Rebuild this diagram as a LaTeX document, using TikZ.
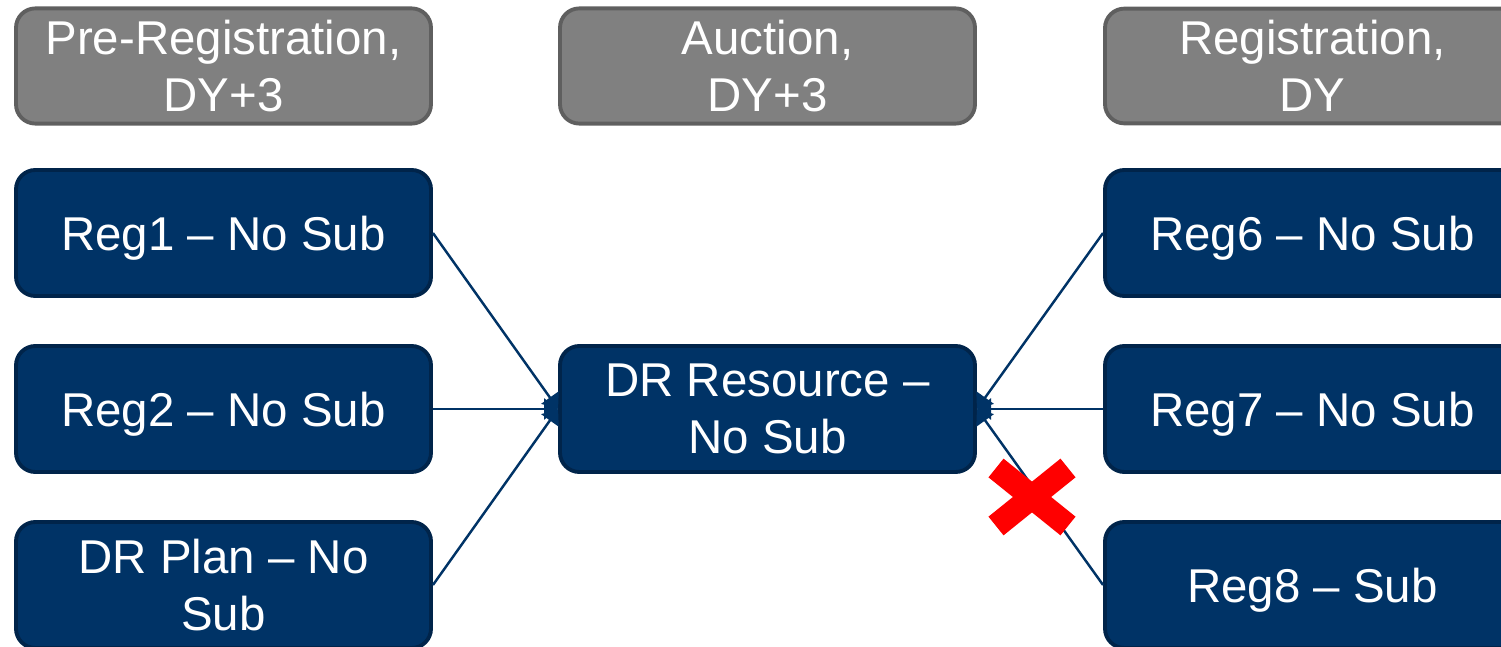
\documentclass[tikz,border=0pt]{standalone}
\usepackage{fontspec}
\setmainfont{Liberation Sans}
\usepackage{xcolor}
\usepackage{tikz}
\usetikzlibrary{arrows.meta,calc}

\definecolor{navy}{RGB}{0,51,102}
\definecolor{navyedge}{RGB}{0,36,74}
\definecolor{headfill}{RGB}{128,128,128}
\definecolor{headedge}{RGB}{95,95,95}

\begin{document}
\begin{tikzpicture}[
        head/.style={draw=headedge, fill=headfill, line width=1.1pt, rounded corners=5.5pt,
            minimum width=4.15cm, minimum height=1.10cm, text=white, align=center,
            font=\fontsize{13.5}{16.2}\selectfont},
        blk/.style={head, draw=navyedge, fill=navy, minimum height=1.26cm, text depth=0pt},
        link/.style={navy, line width=0.7pt, -{Triangle[length=4pt,width=6pt]}},
        xmark/.style={red, line width=0.24cm}
    ]
        \useasboundingbox (0,0) rectangle (15.01,-6.47);
        \clip (0,0) rectangle (15.01,-6.47);

        % column heads
        \node[head] (hpre) at (2.235,-0.66) {Pre-Registration,\\DY+3};
        \node[head] (hauc) at (7.675,-0.66) {Auction,\\DY+3};
        \node[head] (hreg) at (13.125,-0.66) {Registration,\\DY};

        % registrations
        \node[blk] (reg1) at (2.235,-2.33) {Reg1 -- No Sub};
        \node[blk] (reg2) at (2.235,-4.09) {Reg2 -- No Sub};
        \node[blk] (plan) at (2.235,-5.85) {DR Plan -- No\\Sub};
        \node[blk] (res) at (7.675,-4.09) {DR Resource --\\No Sub};
        \node[blk] (reg6) at (13.125,-2.33) {Reg6 -- No Sub};
        \node[blk] (reg7) at (13.125,-4.09) {Reg7 -- No Sub};
        \node[blk] (reg8) at (13.125,-5.85) {Reg8 -- Sub};

        \draw[link] (reg1.east) -- (res.west);
        \draw[link] (reg2.east) -- (res.west);
        \draw[link] (plan.east) -- (res.west);
        \draw[link] (reg6.west) -- (res.east);
        \draw[link] (reg7.west) -- (res.east);
        \draw[link] (reg8.west) -- (res.east);

        % cross on the Reg8 link
        \coordinate (X) at (10.32,-4.97);
        \draw[xmark] ($(X)+(-0.36,0.29)$) -- ($(X)+(0.36,-0.29)$);
        \draw[xmark] ($(X)+(0.36,0.29)$) -- ($(X)+(-0.36,-0.29)$);

    \end{tikzpicture}
\end{document}
